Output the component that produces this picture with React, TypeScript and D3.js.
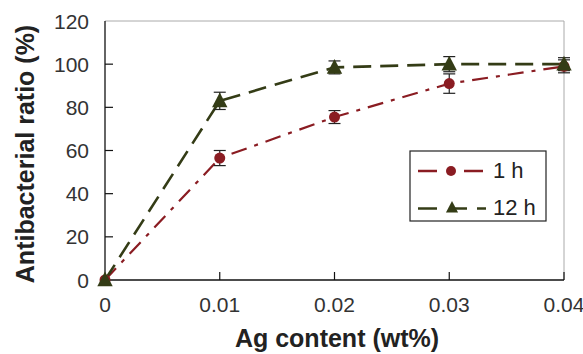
import React from "react";
import * as d3 from "d3";

const agContent = [0, 0.01, 0.02, 0.03, 0.04];
const series1h = [0, 56.5, 75.5, 91, 99];
const err1h = [0, 3.5, 3, 4.5, 3];
const series12h = [0, 83, 98.5, 100, 100];
const err12h = [0, 4, 3, 3.5, 3];
const xTicks = [0, 0.01, 0.02, 0.03, 0.04];
const yTicks = [0, 20, 40, 60, 80, 100, 120];

const RED = "#8a1c22";
const OLIVE = "#343c16";

export default function App() {
  const W = 583, H = 354;
  const L = 105, R = 564, T = 21, B = 280;
  const x = d3.scaleLinear().domain([0, 0.04]).range([L, R]);
  const y = d3.scaleLinear().domain([0, 120]).range([B, T]);
  const line = d3.line<number>().x((_, i) => x(agContent[i])).y((d) => y(d));
  const font = "Liberation Sans, Arial, sans-serif";
  const tri = (cx: number, cy: number, s: number) =>
    `M${cx},${cy - s * 0.6} L${cx + s * 0.55},${cy + s * 0.45} L${cx - s * 0.55},${cy + s * 0.45} Z`;

  const errBars = (vals: number[], errs: number[], key: string) =>
    vals.map((v, i) =>
      errs[i] > 0 ? (
        <g key={key + i} stroke="#222" strokeWidth={1.2}>
          <line x1={x(agContent[i])} x2={x(agContent[i])} y1={y(v + errs[i])} y2={y(v - errs[i])} />
          <line x1={x(agContent[i]) - 6} x2={x(agContent[i]) + 6} y1={y(v + errs[i])} y2={y(v + errs[i])} />
          <line x1={x(agContent[i]) - 6} x2={x(agContent[i]) + 6} y1={y(v - errs[i])} y2={y(v - errs[i])} />
        </g>
      ) : null
    );

  return (
    <svg width={W} height={H} style={{ position: "absolute", left: 0, top: 0, background: "#fff" }}>
      {/* frame */}
      <line x1={L} x2={R} y1={T} y2={T} stroke="#aaa" strokeWidth={1} />
      <line x1={R} x2={R} y1={T} y2={B} stroke="#aaa" strokeWidth={1} />
      <line x1={L} x2={L} y1={T} y2={B} stroke="#111" strokeWidth={1.3} />
      <line x1={L} x2={R} y1={B} y2={B} stroke="#111" strokeWidth={1.3} />
      {yTicks.map((t) => (
        <g key={"y" + t}>
          {t > 0 && t < 120 && <line x1={L} x2={L + 8} y1={y(t)} y2={y(t)} stroke="#111" strokeWidth={1.2} />}
          <text x={L - 16} y={y(t) + 7.5} textAnchor="end" fontFamily={font} fontSize={21} fill="#333">{t}</text>
        </g>
      ))}
      {xTicks.map((t) => (
        <g key={"x" + t}>
          {t > 0 && <line x1={x(t)} x2={x(t)} y1={B} y2={B - 8} stroke="#111" strokeWidth={1.2} />}
          <text x={x(t)} y={B + 32} textAnchor="middle" fontFamily={font} fontSize={21} fill="#333">{t === 0 ? "0" : t.toFixed(2)}</text>
        </g>
      ))}
      <text x={337} y={347} textAnchor="middle" fontFamily={font} fontSize={25} fontWeight="bold" fill="#222">Ag content (wt%)</text>
      <text transform={`translate(34,154) rotate(-90)`} textAnchor="middle" fontFamily={font} fontSize={25} fontWeight="bold" fill="#222">Antibacterial ratio (%)</text>

      {/* lines */}
      <path d={line(series1h) || ""} fill="none" stroke={RED} strokeWidth={2.2} strokeDasharray="16 8 4 8" />
      <path d={line(series12h) || ""} fill="none" stroke={OLIVE} strokeWidth={2.6} strokeDasharray="18 9" />

      {errBars(series1h, err1h, "e1")}
      {errBars(series12h, err12h, "e12")}

      {series1h.map((v, i) => (
        <circle key={"c" + i} cx={x(agContent[i])} cy={y(v)} r={5.5} fill={RED} />
      ))}
      {series12h.map((v, i) => (
        <path key={"t" + i} d={tri(x(agContent[i]), y(v), 14)} fill={OLIVE} />
      ))}

      {/* legend */}
      <rect x={410} y={151} width={136} height={70} fill="#fff" stroke="#222" strokeWidth={1.2} />
      <line x1={418} x2={437} y1={171} y2={171} stroke={RED} strokeWidth={2.5} />
      <line x1={464} x2={483} y1={171} y2={171} stroke={RED} strokeWidth={2.5} />
      <circle cx={451} cy={171} r={5} fill={RED} />
      <text x={493} y={177.5} fontFamily={font} fontSize={22} fill="#222">1 h</text>
      <line x1={418} x2={437} y1={208.5} y2={208.5} stroke={OLIVE} strokeWidth={2.5} />
      <line x1={452} x2={467} y1={208.5} y2={208.5} stroke={OLIVE} strokeWidth={2.5} />
      <line x1={477} x2={486} y1={208.5} y2={208.5} stroke={OLIVE} strokeWidth={2.5} />
      <path d={tri(452, 207.5, 11)} fill={OLIVE} />
      <text x={493} y={214.5} fontFamily={font} fontSize={22} fill="#222">12 h</text>
    </svg>
  );
}
